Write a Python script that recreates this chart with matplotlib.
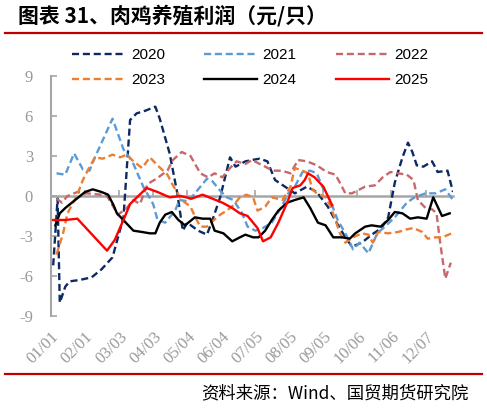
import matplotlib.pyplot as plt
from matplotlib.lines import Line2D

plt.rcParams['font.family'] = ['Noto Sans CJK SC', 'DejaVu Sans']
plt.rcParams['axes.unicode_minus'] = False

# 横轴为一年中的第几天（从 01/01 起算），纵轴为利润（元/只）
days_2020 = [2, 6, 8, 13, 17, 26, 37, 46, 56, 66, 72, 78, 86, 95, 99, 108, 115, 120, 124, 134,
             142, 147, 154, 163, 168, 177, 183, 190, 197, 204, 213, 222, 233, 242, 252, 260, 268,
             274, 283, 292, 301, 307, 313, 320, 325, 329, 333, 339, 347, 352, 361, 366]
vals_2020 = [-5.2, -0.2, -8.0, -6.8, -6.4, -6.3, -6.1, -5.5, -4.6, -1.6, 5.7, 6.2, 6.4, 6.7, 5.8,
             3.2, 0.2, -2.6, -2.0, -2.6, -2.9, -1.8, -0.1, 2.9, 2.2, 2.6, 2.7, 2.8, 2.6, 1.2, 0.7,
             0.2, 0.7, 0.3, -0.8, -2.0, -3.1, -3.8, -3.5, -2.9, -2.4, -1.6, 1.0, 2.9, 4.0, 3.3,
             2.3, 2.2, 2.6, 1.8, 1.9, 0.3]

days_2021 = [5, 13, 21, 29, 35, 40, 56, 66, 74, 84, 93, 97, 104, 113, 117, 125, 134, 142, 147,
             154, 160, 166, 174, 179, 186, 193, 201, 210, 216, 222, 229, 236, 242, 248, 254, 261,
             268, 275, 281, 289, 297, 304, 313, 324, 331, 341, 350, 359, 366]
vals_2021 = [1.7, 1.6, 3.2, 2.0, 1.9, 2.9, 5.8, 3.5, 2.6, 0.7, -0.6, -1.8, -2.0, -1.1, -0.3, -0.4,
             0.5, 1.3, 1.1, 0.4, -0.1, -0.3, -1.3, -2.3, -2.6, -2.4, -2.0, -0.8, 0.2, 0.7, 1.8,
             1.9, 1.7, 0.5, -0.3, -1.8, -2.8, -4.0, -3.5, -4.3, -2.8, -2.3, -1.6, -0.5, -0.1, 0.2,
             0.2, 0.5, -0.3]

days_2022 = [5, 10, 15, 24, 33, 45, 51, 56, 61, 69, 75, 81, 88, 96, 106, 111, 119, 127, 136, 143,
             149, 156, 163, 169, 177, 183, 195, 202, 210, 218, 225, 233, 242, 251, 259, 263, 268,
             274, 286, 295, 302, 309, 316, 324, 330, 334, 341, 347, 351, 354, 359, 364]
vals_2022 = [-0.2, -0.5, 0.0, 0.3, 0.2, 0.1, 0.0, -0.7, -1.4, -0.9, -0.3, -0.6, 0.9, 1.3, 1.9,
             2.7, 3.3, 3.0, 1.7, 1.4, 1.7, 1.4, 2.1, 2.6, 2.4, 2.7, 2.2, 1.9, 1.9, 1.7, 2.7, 2.6,
             2.3, 1.8, 1.6, 1.0, 0.2, 0.2, 0.7, 0.8, 1.4, 1.8, 1.7, 1.6, 1.2, -0.3, -0.9, -1.0,
             -1.3, -3.3, -6.2, -5.0]

days_2023 = [5, 11, 15, 24, 29, 34, 40, 47, 56, 63, 69, 75, 83, 90, 97, 106, 111, 119, 127, 132,
             136, 142, 147, 154, 160, 166, 172, 178, 184, 188, 195, 201, 211, 218, 222, 229, 234,
             238, 242, 250, 254, 259, 263, 268, 275, 283, 289, 293, 298, 307, 316, 324, 330, 338,
             343, 350, 356, 365]
vals_2023 = [-4.4, -2.8, -1.3, 0.1, 1.2, 2.0, 2.9, 2.8, 3.1, 2.9, 3.1, 2.6, 2.1, 2.9, 2.3, 1.6,
             0.8, -0.3, -0.8, -1.7, -2.3, -2.3, -1.9, -1.4, -1.1, -0.7, -0.1, 0.1, -0.1, -1.1,
             -0.8, -0.1, -0.3, 0.7, 2.1, 1.9, 1.7, 0.5, 0.2, -0.1, -0.7, -1.8, -2.8, -3.5, -3.1,
             -2.8, -2.9, -3.5, -2.7, -2.8, -2.7, -2.5, -2.4, -2.7, -3.2, -3.1, -3.1, -2.8]

days_2024 = [4, 8, 13, 22, 31, 38, 46, 52, 57, 60, 67, 75, 83, 90, 95, 99, 104, 110, 116, 122,
             125, 131, 138, 145, 149, 157, 165, 172, 177, 184, 189, 195, 201, 207, 215, 222, 230,
             236, 243, 250, 257, 265, 272, 277, 286, 292, 300, 307, 313, 320, 327, 334, 342, 348,
             356, 363]
vals_2024 = [-2.2, -1.3, -0.9, -0.3, 0.3, 0.5, 0.3, 0.1, -0.7, -1.3, -1.9, -2.6, -2.7, -2.8,
             -2.8, -2.0, -1.4, -1.2, -1.8, -2.2, -2.0, -1.6, -1.7, -1.7, -2.6, -2.8, -3.4, -3.1,
             -2.9, -3.1, -3.1, -2.6, -1.8, -1.1, -0.5, -0.3, -0.1, -0.9, -2.0, -2.2, -3.1, -3.1,
             -3.2, -2.8, -2.3, -2.2, -2.3, -1.8, -1.2, -1.3, -1.7, -1.6, -1.7, -0.1, -1.5, -1.3]

days_2025 = [2, 13, 24, 51, 58, 67, 72, 87, 97, 108, 118, 128, 138, 147, 156, 165, 172, 179, 183,
             188, 193, 200, 207, 215, 220, 227, 231, 234, 240, 248, 256]
vals_2025 = [-1.8, -1.8, -1.7, -4.1, -3.3, -1.6, -0.6, 0.6, 0.3, -0.1, 0.0, -0.2, 0.1, -0.2,
             -0.5, -0.9, -1.3, -1.5, -1.9, -2.4, -3.4, -3.1, -2.0, -0.5, 0.6, 0.8, 1.2, 1.7, 1.4,
             0.7, -0.7]

tick_days = [0, 31, 62, 93, 124, 155, 186, 217, 248, 279, 310, 341]
tick_labels = ['01/01', '02/01', '03/03', '04/03', '05/04', '06/04',
               '07/05', '08/05', '09/05', '10/06', '11/06', '12/07']

series = [
    ('2020', days_2020, vals_2020, '#0B2A62', (3, 1.6)),
    ('2021', days_2021, vals_2021, '#5B9BD5', (3, 1.6)),
    ('2022', days_2022, vals_2022, '#C9686B', (3, 1.6)),
    ('2023', days_2023, vals_2023, '#ED7D31', (3, 1.6)),
    ('2024', days_2024, vals_2024, '#000000', None),
    ('2025', days_2025, vals_2025, '#FF0000', None),
]

fig = plt.figure(figsize=(4.87, 4.08), dpi=100)
ax = fig.add_axes([51 / 487, 1 - 316 / 408, 402 / 487, 240 / 408])

handles = {}
for name, d, v, c, dash in series:
    if dash:
        ln, = ax.plot(d, v, color=c, lw=1.7, dashes=dash, zorder=3, label=name)
    else:
        ln, = ax.plot(d, v, color=c, lw=1.7, zorder=3, label=name)
    handles[name] = ln

ax.set_xlim(0, 366)
ax.set_ylim(-9, 9)
ax.set_yticks([-9, -6, -3, 0, 3, 6, 9])

grey = '#A6A6A6'
for s in ['top', 'right']:
    ax.spines[s].set_visible(False)
ax.spines['left'].set_color(grey)
ax.spines['left'].set_linewidth(1.5)
ax.spines['bottom'].set_position(('data', 0))
ax.spines['bottom'].set_color(grey)
ax.spines['bottom'].set_linewidth(1.8)

ax.set_xticks(tick_days)
ax.tick_params(axis='x', direction='in', length=4, width=1.2, color=grey, labelbottom=False)
ax.tick_params(axis='y', direction='in', length=4, width=1.2, color=grey, pad=13,
               labelcolor='#999999', labelsize=12)
for t in ax.get_yticklabels():
    t.set_family('Liberation Serif')

# 日期标签放在图底部
sec = ax.secondary_xaxis('bottom')
sec.spines['bottom'].set_visible(False)
sec.set_xticks(tick_days)
sec.set_xticklabels(tick_labels)
sec.tick_params(length=0, pad=9, labelcolor='#999999', labelsize=12)
for t in sec.get_xticklabels():
    t.set_family('Liberation Serif')
    t.set_rotation(45)
    t.set_ha('right')
    t.set_rotation_mode('anchor')

order = ['2020', '2023', '2021', '2024', '2022', '2025']
fig.legend([handles[k] for k in order], order, ncol=3, frameon=False,
           loc='upper left', bbox_to_anchor=(72 / 487, 1 - 48 / 408),
           prop={'family': 'Liberation Sans', 'size': 11},
           handlelength=3.5, handletextpad=0.35, columnspacing=2.55,
           labelspacing=0.75, borderpad=0, borderaxespad=0)

fig.text(18 / 487, 1 - 16 / 408, '图表 31、肉鸡养殖利润（元/只）', fontsize=15,
         fontweight='bold', va='center', ha='left')
fig.add_artist(Line2D([5 / 487, 482 / 487], [1 - 33 / 408] * 2,
                      transform=fig.transFigure, color='#C00000', lw=1.6))
fig.add_artist(Line2D([5 / 487, 482 / 487], [1 - 374 / 408] * 2,
                      transform=fig.transFigure, color='#C00000', lw=1.6))
fig.text(469 / 487, 1 - 393 / 408, '资料来源：Wind、国贸期货研究院', fontsize=12.5,
         va='center', ha='right')

fig.savefig('out.png', dpi=100)
